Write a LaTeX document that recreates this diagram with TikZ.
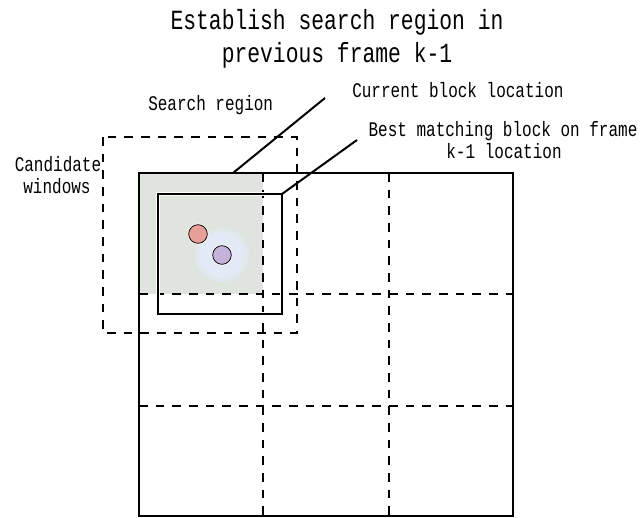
\documentclass[tikz,border=0pt]{standalone}
\usepackage{fontspec}
\setmonofont{Liberation Mono}
\definecolor{blockfill}{RGB}{223,229,222}
\definecolor{halo}{RGB}{226,234,245}
\definecolor{ptred}{RGB}{230,160,152}
\definecolor{ptpurple}{RGB}{196,178,218}
% tall monospaced lettering
\newcommand{\tall}[1]{\scalebox{1}[1.3]{#1}}
\begin{document}
\begin{tikzpicture}[x=0.75pt,y=-0.75pt,
  lbl/.style={font=\ttfamily\fontsize{12}{14}\selectfont, inner sep=0pt, anchor=base west},
  lblc/.style={font=\ttfamily\fontsize{12}{14}\selectfont, inner sep=0pt, anchor=base},
  ttl/.style={font=\ttfamily\fontsize{16}{20}\selectfont, inner sep=0pt, anchor=base},
  solidline/.style={line width=1.6pt, black},
  gridline/.style={line width=1.6pt, black, dash pattern=on 6.5pt off 6pt},
  leader/.style={line width=1.5pt, black},
  blockbox/.style={draw=none, inner sep=0pt, outer sep=0pt},
  pt/.style={circle, minimum size=14pt, inner sep=0pt, draw=black, line width=0.6pt}]
\useasboundingbox (0,0) rectangle (641,517);

% title
\node[ttl] (title1) at (337,30) {\tall{Establish search region in}};
\node[ttl] (title2) at (337,63) {\tall{previous frame k-1}};

% frame k-1 and its blocks
\node[blockbox, minimum width=93pt, minimum height=90.75pt, anchor=north west,
      fill=blockfill] (cur) at (139,173) {};
\node[blockbox, minimum width=280.5pt, minimum height=257.25pt, anchor=north west] (frame) at (139,173) {};

% soft glow around the matched point
\fill[halo!60!blockfill] (222,255) circle (27);
\fill[halo] (222,255) circle (23);

% grid of candidate blocks
\draw[gridline] (263,173) -- (263,516);
\draw[gridline] (389,173) -- (389,516);
\draw[gridline] (139,294) -- (513,294);
\draw[gridline] (139,406) -- (513,406);
\draw[solidline] (frame.north west) rectangle (frame.south east);

% search region
\node[blockbox, minimum width=145.5pt, minimum height=147pt, anchor=north west] (search) at (103,137) {};
\draw[gridline] (search.north west) rectangle (search.south east);

% best matching block
\node[blockbox, minimum width=93pt, minimum height=90pt, anchor=north west] (best) at (158,194) {};
\draw[white, line width=3.6pt] (best.north west) rectangle (best.south east);
\draw[solidline] (best.north west) rectangle (best.south east);

% motion points
\fill[white] (198,234) circle (10.5);
\fill[white] (222,255) circle (10.5);
\node[pt, fill=ptred] (p1) at (198,234) {};
\node[pt, fill=ptpurple] (p2) at (222,255) {};

% labels
\node[lbl] (lsearch) at (148,110) {\tall{Search region}};
\node[lbl] (lcur) at (352,97) {\tall{Current block location}};
\node[lblc] (lbest1) at (503,136) {\tall{Best matching block on frame}};
\node[lblc] (lbest2) at (504,158) {\tall{k-1 location}};
\node[lblc] (lcand1) at (58,171) {\tall{Candidate}};
\node[lblc] (lcand2) at (57,193) {\tall{windows}};

% leader lines
\coordinate (curtip) at (325,98);
\coordinate (besttip) at (357,140);
\coordinate (curfoot) at (233,173);
\draw[leader] (curtip) -- (curfoot);
\draw[leader] (besttip) -- (best.north east);
\end{tikzpicture}
\end{document}
